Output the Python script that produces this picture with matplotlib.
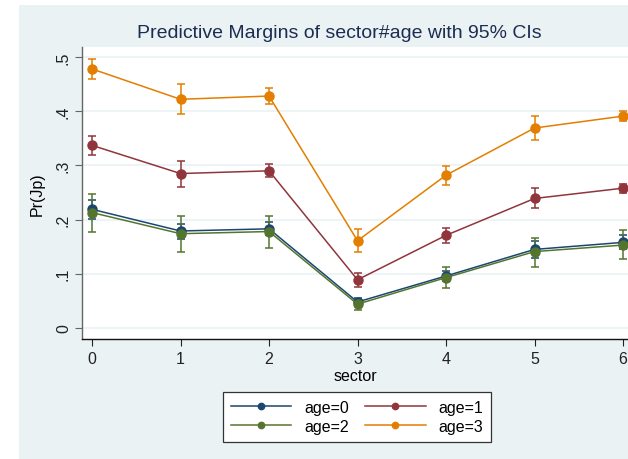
import matplotlib
matplotlib.use("Agg")
import matplotlib.pyplot as plt
from matplotlib.patches import Rectangle
import numpy as np

plt.rcParams['font.family'] = ['Liberation Sans', 'DejaVu Sans']

sectors = [0, 1, 2, 3, 4, 5, 6]
labels = ["age=0", "age=1", "age=2", "age=3"]
colors = ["#1a476f", "#90353b", "#55752f", "#e37e00"]

# predictive margins and 95% CI bounds
age0 = [0.219, 0.179, 0.183, 0.048, 0.096, 0.145, 0.158]
age0_lo = [0.201, 0.164, 0.171, 0.040, 0.086, 0.129, 0.145]
age0_hi = [0.236, 0.192, 0.195, 0.055, 0.106, 0.161, 0.171]

age1 = [0.337, 0.285, 0.290, 0.089, 0.171, 0.239, 0.258]
age1_lo = [0.319, 0.261, 0.279, 0.075, 0.157, 0.221, 0.249]
age1_hi = [0.354, 0.309, 0.303, 0.101, 0.184, 0.258, 0.266]

age2 = [0.213, 0.174, 0.178, 0.044, 0.093, 0.141, 0.153]
age2_lo = [0.178, 0.141, 0.147, 0.033, 0.074, 0.112, 0.128]
age2_hi = [0.247, 0.206, 0.207, 0.054, 0.112, 0.166, 0.180]

age3 = [0.478, 0.422, 0.428, 0.161, 0.282, 0.369, 0.391]
age3_lo = [0.459, 0.394, 0.413, 0.140, 0.263, 0.347, 0.382]
age3_hi = [0.497, 0.450, 0.443, 0.183, 0.299, 0.391, 0.401]

series = [(age0, age0_lo, age0_hi), (age1, age1_lo, age1_hi),
          (age2, age2_lo, age2_hi), (age3, age3_lo, age3_hi)]

bgColor = "#eaf2f3"
W, H = 628, 460
fig = plt.figure(figsize=(W / 100, H / 100), dpi=100, facecolor="white")
# stata graph region (white margin on top/left)
fig.patches.append(Rectangle((19 / W, 0), 1 - 19 / W, 1 - 6 / H, transform=fig.transFigure,
                             facecolor=bgColor, edgecolor="none", zorder=-10))

ax = fig.add_axes([82 / W, 1 - 340 / H, 1 - 82 / W, (340 - 48) / H])
ax.set_zorder(1)
ax.set_facecolor("white")

for (m, lo, hi), c, lab in zip(series, colors, labels):
    m = np.array(m)
    yerr = [m - np.array(lo), np.array(hi) - m]
    ax.errorbar(sectors, m, yerr=yerr, fmt="none", ecolor=c, elinewidth=1.1,
                capsize=3, capthick=1.1, zorder=2)
    ax.plot(sectors, m, color=c, lw=1.1, marker="o", ms=6.5, label=lab, zorder=3)

ax.set_xlim(-0.113, 6.056)
ax.set_ylim(-0.0203, 0.5185)
ax.set_xticks(sectors)
ax.set_yticks([0, 0.1, 0.2, 0.3, 0.4, 0.5])
ax.set_yticklabels(["0", ".1", ".2", ".3", ".4", ".5"], rotation=90, va="center")
ax.tick_params(axis="both", labelsize=11.5, length=5, width=0.8, colors="#222222", pad=3)
ax.tick_params(axis="x", pad=4)
ax.tick_params(axis="y", color="#666666")
ax.yaxis.grid(True, color=bgColor, lw=1.2)
ax.set_axisbelow(True)
for s in ["top", "right"]:
    ax.spines[s].set_visible(False)
ax.spines["left"].set_color("#666666")
ax.spines["bottom"].set_color("#111111")
ax.spines["left"].set_linewidth(1.0)
ax.spines["bottom"].set_linewidth(1.0)

ax.set_xlabel("sector", fontsize=11.5, labelpad=1)
ax.set_ylabel("Pr(Jp)", fontsize=11.5, labelpad=8)

fig.text(339 / W, 1 - 33 / H, "Predictive Margins of sector#age with 95% CIs",
         ha="center", va="center", fontsize=14, color="#1c2d52")

handles, labs = ax.get_legend_handles_labels()
order = [0, 2, 1, 3]
leg = fig.legend([handles[i] for i in order], [labs[i] for i in order], ncol=2,
                 loc="center", bbox_to_anchor=(357 / W, 1 - 418 / H),
                 fontsize=11.5, frameon=True, fancybox=False, edgecolor="#333333",
                 framealpha=1, handlelength=3.8, markerscale=0.7, columnspacing=1.0,
                 labelspacing=0.25, borderpad=0.5)
leg.get_frame().set_linewidth(0.9)

fig.savefig("out.png", dpi=100, facecolor="white")
